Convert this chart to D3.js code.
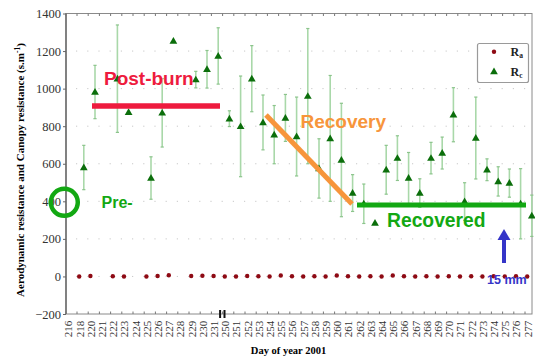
<!DOCTYPE html>
<html><head><meta charset="utf-8">
<script src="https://cdn.jsdelivr.net/npm/d3@7/dist/d3.min.js"></script>
<style>body{margin:0;background:#fff}svg{display:block}</style>
</head><body>
<svg id="c" width="535" height="356"></svg>
<script>
// ---- data ----
const days = [216,218,220,221,222,223,224,225,226,227,228,229,230,231,
  250,251,252,253,254,255,256,257,258,259,260,261,262,263,264,265,266,267,268,269,270,271,272,273,274,275,276,277];
const raValues = [null,0,2,null,1,0,null,0,2,6,null,2,4,2,
  0,0,2,1,0,5,1,0,1,0,5,1,0,1,0,5,1,0,1,0,1,0,1,0,1,0,1,0];
const rcValues = [null,580,982,null,1053,874,null,524,871,1254,null,1048,1103,1174,
  840,799,1053,820,755,844,745,960,575,735,620,444,387,284,568,630,524,444,630,657,861,399,737,568,506,497,387,323];
const rcErrors = [null,118,142,null,286,0,null,113,182,0,null,44,100,150,
  42,268,176,146,155,125,210,360,158,335,302,98,105,0,130,119,136,76,84,85,144,100,218,58,78,75,187,110];
const yTicks = [-200,0,200,400,600,800,1000,1200,1400];

const svg = d3.select("#c");
const L = 66, R = 532, T = 13.5, B = 314;
const x = d3.scalePoint().domain(days).range([68, 527.2]);
const y = d3.scaleLinear().domain([-200, 1400]).range([B, T]);
const rcOff = 4.6;
const serif = "'Liberation Serif','Times New Roman',serif";
const sans = "'Liberation Sans',Arial,sans-serif";

// grid (dotted)
svg.append("g").selectAll("line").data(yTicks.filter(v => v > -200 && v < 1400)).join("line")
  .attr("x1", L + 10).attr("x2", R).attr("y1", d => y(d)).attr("y2", d => y(d))
  .attr("stroke", "#c8c8c8").attr("stroke-width", 1).attr("stroke-dasharray", "1.2,10");

// frame
svg.append("rect").attr("x", L).attr("y", T).attr("width", R - L).attr("height", B - T)
  .attr("fill", "none").attr("stroke", "#8a8a8a").attr("stroke-width", 1);
svg.append("line").attr("x1", L).attr("x2", L).attr("y1", T).attr("y2", B).attr("stroke", "#666").attr("stroke-width", 1.4);

// y axis
const yAxis = svg.append("g").attr("transform", `translate(${L},0)`)
  .call(d3.axisLeft(y).tickValues(yTicks).tickSize(3).tickPadding(2).tickFormat(d3.format("d")));
yAxis.select(".domain").remove();
yAxis.selectAll("line").attr("stroke", "#666");
yAxis.selectAll("text").attr("font-family", serif).attr("font-size", 12.5).attr("fill", "#333");

// x axis
const xAxis = svg.append("g").attr("transform", `translate(0,${B})`)
  .call(d3.axisBottom(x).tickSize(0).tickPadding(4));
xAxis.select(".domain").remove();
xAxis.selectAll("text").attr("font-family", serif).attr("font-size", 11).attr("fill", "#333")
  .attr("transform", "rotate(-90)").attr("text-anchor", "end").attr("dx", "-0.25em").attr("dy", "0.35em")
  .attr("x", 0).attr("y", 0)
  .each(function(){ d3.select(this).attr("transform", "translate(0,4) rotate(-90)"); });
// small ticks top & bottom
svg.append("g").selectAll("line").data(days).join("line")
  .attr("x1", d => x(d) - 2.2).attr("x2", d => x(d) - 2.2).attr("y1", B).attr("y2", B - 2.5)
  .attr("stroke", "#777");
svg.append("g").selectAll("line").data(days).join("line")
  .attr("x1", d => x(d) - 2.2).attr("x2", d => x(d) - 2.2).attr("y1", T).attr("y2", T + 2.5)
  .attr("stroke", "#777");
// axis break
const bx = x(250) - 2.5;
[-2.2, 2.2].forEach(o => svg.append("rect").attr("x", bx + o - 1).attr("y", B - 4).attr("width", 2).attr("height", 8).attr("fill", "#111"));

// axis titles
svg.append("text").attr("x", 288.5).attr("y", 354).attr("text-anchor", "middle")
  .attr("font-family", serif).attr("font-weight", "bold").attr("font-size", 10.5).text("Day of year 2001");
const yt = svg.append("text").attr("transform", "translate(24,170) rotate(-90)").attr("text-anchor", "middle")
  .attr("font-family", serif).attr("font-weight", "bold").attr("font-size", 11);
yt.append("tspan").text("Aerodynamic resistance and Canopy resistance (s.m");
yt.append("tspan").attr("font-size", 7.5).attr("dy", -4).text("-1");
yt.append("tspan").attr("dy", 4).text(")");

// Rc error bars
const rc = days.map((d, i) => ({d, v: rcValues[i], e: rcErrors[i]})).filter(o => o.v != null);
const eb = svg.append("g");
rc.filter(o => o.e > 0).forEach(o => {
  const cx = x(o.d) + rcOff;
  eb.append("line").attr("x1", cx).attr("x2", cx).attr("y1", y(o.v + o.e)).attr("y2", y(o.v - o.e))
    .attr("stroke", "#a9d8a9").attr("stroke-width", 1.6);
  [o.v + o.e, o.v - o.e].forEach(v => eb.append("line").attr("x1", cx - 1.6).attr("x2", cx + 1.6)
    .attr("y1", y(v)).attr("y2", y(v)).attr("stroke", "#8cc48c").attr("stroke-width", 1.2));
});
// Rc triangles
const tri = d3.symbol().type(d3.symbolTriangle).size(26);
svg.append("g").selectAll("path").data(rc).join("path")
  .attr("d", tri).attr("transform", o => `translate(${x(o.d) + rcOff},${y(o.v) + 0.5})`)
  .attr("fill", "#0b6e0b");
// Ra dots
const ra = days.map((d, i) => ({d, v: raValues[i]})).filter(o => o.v != null);
svg.append("g").selectAll("circle").data(ra).join("circle")
  .attr("cx", o => x(o.d)).attr("cy", o => y(o.v)).attr("r", 2.2).attr("fill", "#8e0a14");

// legend
svg.append("rect").attr("x", 477.5).attr("y", 43.5).attr("width", 51).attr("height", 39).attr("rx", 2)
  .attr("fill", "#fff").attr("stroke", "#9a9a9a").attr("stroke-width", 1.2);
svg.append("circle").attr("cx", 494).attr("cy", 51.7).attr("r", 2.2).attr("fill", "#8e0a14");
svg.append("path").attr("d", tri).attr("transform", "translate(494,72)").attr("fill", "#0b6e0b");
[["a", 56], ["c", 76]].forEach(([s, yy]) => {
  const t = svg.append("text").attr("x", 510.5).attr("y", yy).attr("font-family", serif)
    .attr("font-weight", "bold").attr("font-size", 12).attr("fill", "#222");
  t.append("tspan").text("R");
  t.append("tspan").attr("font-size", 7.5).attr("dy", 2).text(s);
});

// annotations
const ann = svg.append("g");
ann.append("line").attr("x1", 92).attr("x2", 220).attr("y1", 106).attr("y2", 106).attr("stroke", "#ee1b3e").attr("stroke-width", 5.4);
ann.append("text").attr("x", 104).attr("y", 84.5).attr("font-family", sans).attr("font-weight", "bold")
  .attr("font-size", 19).attr("fill", "#ee1b3e").text("Post-burn");
ann.append("line").attr("x1", 266).attr("y1", 115).attr("x2", 352).attr("y2", 204).attr("stroke", "#f7953b").attr("stroke-width", 5);
ann.append("text").attr("x", 300.5).attr("y", 128.3).attr("font-family", sans).attr("font-weight", "bold")
  .attr("font-size", 19).attr("fill", "#f7953b").text("Recovery");
ann.append("line").attr("x1", 357).attr("x2", 526).attr("y1", 205).attr("y2", 205).attr("stroke", "#13a813").attr("stroke-width", 5);
ann.append("text").attr("x", 387).attr("y", 227).attr("font-family", sans).attr("font-weight", "bold")
  .attr("font-size", 19.3).attr("fill", "#13a813").text("Recovered");
ann.append("text").attr("x", 101.5).attr("y", 208).attr("font-family", sans).attr("font-weight", "bold")
  .attr("font-size", 16).attr("fill", "#13a813").text("Pre-");
ann.append("circle").attr("cx", 64.3).attr("cy", 202.3).attr("r", 13.5).attr("fill", "none")
  .attr("stroke", "#13a813").attr("stroke-width", 4.5);
ann.append("rect").attr("x", 502).attr("y", 238).attr("width", 4).attr("height", 25).attr("fill", "#3535c8");
ann.append("path").attr("d", "M497.5,240 L510.5,240 L504,229 Z").attr("fill", "#3535c8");
ann.append("text").attr("x", 487).attr("y", 283.5).attr("font-family", sans).attr("font-weight", "bold")
  .attr("font-size", 12.5).attr("fill", "#3535c8").text("15 mm");
</script>
</body></html>
